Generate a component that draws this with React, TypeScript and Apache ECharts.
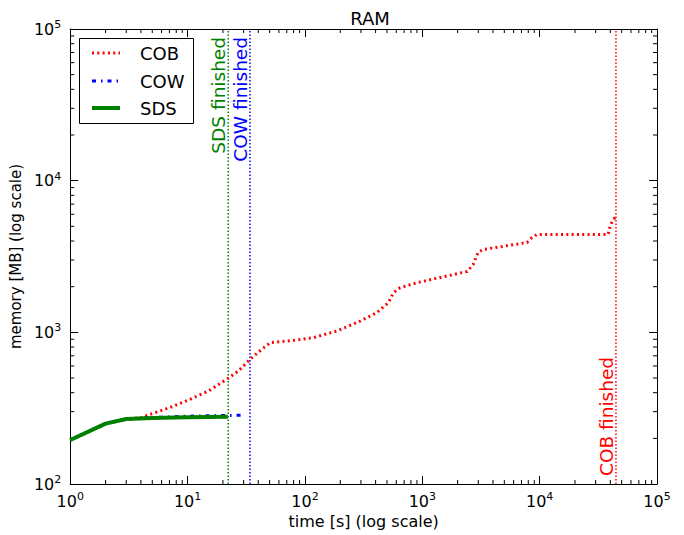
import React, { useEffect, useRef } from "react";
import * as echarts from "echarts";

const FONT = "DejaVu Sans";
const RED = "#ff0000";
const BLUE = "#0000ff";
const GREEN = "#008000";

// time [s], memory [MB]
const cobTime = [1, 2, 3, 4, 4.5, 7.1, 10.5, 15.1, 21.6, 27.1, 34.1, 42.9, 50.6, 79.8, 118, 187, 295, 409, 514, 567, 647, 898, 2411, 2713, 2986, 3295, 7813, 8610, 9500, 38300, 39800, 42200, 44000];
const cobMem = [195, 250, 268, 274, 283, 320, 362, 411, 491, 556, 664, 773, 855, 885, 922, 1020, 1186, 1348, 1567, 1822, 1967, 2123, 2519, 2801, 3358, 3516, 3910, 4218, 4416, 4416, 4980, 5531, 5710];
const cowTime = [1, 2, 3, 5, 10, 20, 30];
const cowMem = [195, 250, 268, 274, 280, 283, 284];
const sdsTime = [1, 2, 3, 5, 10, 22];
const sdsMem = [195, 250, 268, 272, 276, 278];

// finish times: SDS, COW, COB
const finishTime = [22.2, 34, 44700];
const finishLabel = ["SDS finished", "COW finished", "COB finished"];
const finishColor = [GREEN, BLUE, RED];
const finishAtBottom = [false, false, true];

const xTickExp = [0, 1, 2, 3, 4, 5];
const yTickExp = [2, 3, 4, 5];
const yMin = 100;
const yMax = 100000;

const minorMultipliers = [2, 3, 4, 5, 6, 7, 8, 9];

export default function App() {
  const ref = useRef<HTMLDivElement>(null);
  useEffect(() => {
    if (!ref.current) return;
    const chart = echarts.init(ref.current, undefined, { renderer: "svg" });

    const minorData: number[][] = [];
    xTickExp.slice(0, -1).forEach((e) => minorMultipliers.forEach((m) => minorData.push([m * Math.pow(10, e), 1000, 0])));
    yTickExp.slice(0, -1).forEach((e) => minorMultipliers.forEach((m) => minorData.push([10, m * Math.pow(10, e), 1])));

    const labelFmt = (v: number) => `{b|10}{s|${Math.round(Math.log10(v))}}`;
    const rich = {
      b: { fontSize: 16, fontFamily: FONT, color: "#000" },
      s: { fontSize: 11, fontFamily: FONT, color: "#000", padding: [0, 0, 9, 0] },
    };
    const tickStyle = { show: true, inside: true, length: 8, lineStyle: { color: "#000", width: 1 } };

    const pair = (t: number[], m: number[]) => t.map((v, i) => [v, m[i]]);
    const finishSeries = finishTime.map((t, i) => ({
      type: "line",
      data: [[t, yMin], [t, yMax]],
      symbol: "none",
      z: 1,
      lineStyle: { color: finishColor[i], width: 1.5, type: [1.5, 2], cap: "butt" },
    }));

    chart.setOption({
      animation: false,
      title: {
        text: "RAM",
        left: 365,
        top: 4,
        textAlign: "center",
        textStyle: { fontFamily: FONT, fontSize: 18, fontWeight: "normal", color: "#000" },
      },
      grid: { left: 70, right: 27, top: 29, bottom: 51 },
      xAxis: [
        {
          type: "log",
          logBase: 10,
          min: 1,
          max: 100000,
          name: "time [s] (log scale)",
          nameLocation: "middle",
          nameGap: 27,
          nameTextStyle: { fontFamily: FONT, fontSize: 16, color: "#000" },
          axisLine: { show: true, lineStyle: { color: "#000", width: 1 } },
          axisTick: tickStyle,
          axisLabel: { formatter: labelFmt, rich, margin: 7 },
          splitLine: { show: false },
        },
        {
          type: "log",
          logBase: 10,
          min: 1,
          max: 100000,
          position: "top",
          axisLine: { show: true, lineStyle: { color: "#000", width: 1 } },
          axisTick: tickStyle,
          axisLabel: { show: false },
          splitLine: { show: false },
        },
      ],
      yAxis: [
        {
          type: "log",
          logBase: 10,
          min: yMin,
          max: yMax,
          name: "memory [MB] (log scale)",
          nameLocation: "middle",
          nameGap: 44,
          nameTextStyle: { fontFamily: FONT, fontSize: 15, color: "#000" },
          axisLine: { show: true, lineStyle: { color: "#000", width: 1 } },
          axisTick: tickStyle,
          axisLabel: { formatter: labelFmt, rich, margin: 9 },
          splitLine: { show: false },
        },
        {
          type: "log",
          logBase: 10,
          min: yMin,
          max: yMax,
          position: "right",
          axisLine: { show: true, lineStyle: { color: "#000", width: 1 } },
          axisTick: tickStyle,
          axisLabel: { show: false },
          splitLine: { show: false },
        },
      ],
      series: [
        {
          type: "custom",
          silent: true,
          clip: false,
          data: minorData,
          renderItem: (params: any, api: any) => {
            const cs = params.coordSys;
            const kind = api.value(2);
            const st = { stroke: "#000", lineWidth: 1 };
            if (kind === 0) {
              const px = api.coord([api.value(0), 1000])[0];
              return {
                type: "group",
                children: [
                  { type: "line", shape: { x1: px, y1: cs.y + cs.height, x2: px, y2: cs.y + cs.height - 4 }, style: st },
                  { type: "line", shape: { x1: px, y1: cs.y, x2: px, y2: cs.y + 4 }, style: st },
                ],
              };
            }
            const py = api.coord([10, api.value(1)])[1];
            return {
              type: "group",
              children: [
                { type: "line", shape: { x1: cs.x, y1: py, x2: cs.x + 4, y2: py }, style: st },
                { type: "line", shape: { x1: cs.x + cs.width, y1: py, x2: cs.x + cs.width - 4, y2: py }, style: st },
              ],
            };
          },
        },
        ...finishSeries,
        {
          type: "custom",
          clip: false,
          data: finishTime.map((t, i) => [t, 1000, i]),
          renderItem: (params: any, api: any) => {
            const cs = params.coordSys;
            const i = api.value(2);
            const px = api.coord([api.value(0), 1000])[0];
            const bottom = finishAtBottom[i];
            return {
              type: "text",
              x: px,
              y: bottom ? cs.y + cs.height - 8 : cs.y + 8,
              rotation: Math.PI / 2,
              style: {
                text: finishLabel[i],
                fill: finishColor[i],
                font: `18.5px '${FONT}'`,
                align: bottom ? "left" : "right",
                verticalAlign: "bottom",
              },
            };
          },
        },
        {
          name: "COB",
          type: "line",
          data: pair(cobTime, cobMem),
          symbol: "none",
          lineStyle: { color: RED, width: 3, type: [2, 3.3], cap: "butt" },
        },
        {
          name: "COW",
          type: "line",
          data: pair(cowTime, cowMem),
          symbol: "none",
          lineStyle: { color: BLUE, width: 3, type: [4, 5, 1.5, 5], cap: "butt" },
        },
        {
          name: "SDS",
          type: "line",
          data: pair(sdsTime, sdsMem),
          symbol: "none",
          lineStyle: { color: GREEN, width: 4 },
        },
      ],
      graphic: [
        {
          type: "group",
          left: 79,
          top: 38,
          children: [
            { type: "rect", shape: { x: 0.5, y: 0.5, width: 114, height: 85 }, style: { fill: "#fff", stroke: "#000", lineWidth: 1 } },
            { type: "line", shape: { x1: 13, y1: 15, x2: 41, y2: 15 }, style: { stroke: RED, lineWidth: 3, lineDash: [2, 3.3] } },
            { type: "line", shape: { x1: 13, y1: 43, x2: 41, y2: 43 }, style: { stroke: BLUE, lineWidth: 3, lineDash: [4, 5, 1.5, 5] } },
            { type: "line", shape: { x1: 13, y1: 70, x2: 41, y2: 70 }, style: { stroke: GREEN, lineWidth: 4 } },
            { type: "text", x: 61, y: 15, style: { text: "COB", font: `18px '${FONT}'`, fill: "#000", verticalAlign: "middle" } },
            { type: "text", x: 61, y: 43, style: { text: "COW", font: `18px '${FONT}'`, fill: "#000", verticalAlign: "middle" } },
            { type: "text", x: 61, y: 70, style: { text: "SDS", font: `18px '${FONT}'`, fill: "#000", verticalAlign: "middle" } },
          ],
        },
      ],
    });
    return () => chart.dispose();
  }, []);
  return <div ref={ref} style={{ position: "absolute", left: 0, top: 0, width: 684, height: 535 }} />;
}
